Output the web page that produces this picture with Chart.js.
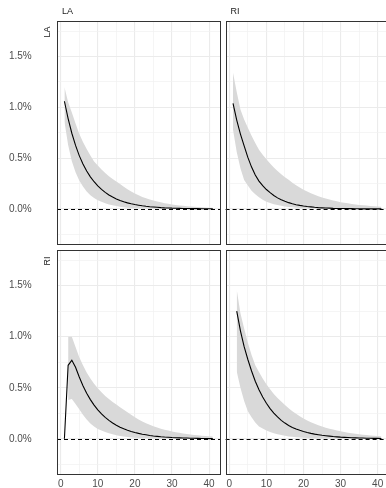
<!DOCTYPE html>
<html>
<head>
<meta charset="utf-8">
<script src="https://cdn.jsdelivr.net/npm/chart.js@4"></script>
<style>
  html, body { margin: 0; padding: 0; background: #fff; overflow: hidden; }
  #wrap { position: relative; width: 386px; height: 488px; overflow: hidden; }
  #wrap canvas { position: absolute; }
</style>
</head>
<body>
<div id="wrap">
  <canvas id="p11" width="224" height="248" style="left:0px;top:0px"></canvas>
  <canvas id="p12" width="170" height="248" style="left:222px;top:0px"></canvas>
  <canvas id="p21" width="224" height="240" style="left:0px;top:248px"></canvas>
  <canvas id="p22" width="170" height="240" style="left:222px;top:248px"></canvas>
</div>
<script>
const shocks = ['LA', 'RI'];
const horizon = [1,2,3,4,5,6,7,8,9,10,11,12,13,14,15,16,17,18,19,20,
  21,22,23,24,25,26,27,28,29,30,31,32,33,34,35,36,37,38,39,40,41];
const xMajor = [0, 10, 20, 30, 40];
const yMajor = [0, 0.5, 1, 1.5];

// row LA, column LA
const laLaMid = [1.06,0.89,0.745,0.625,0.525,0.443,0.374,0.316,0.268,0.227,
  0.192,0.163,0.138,0.117,0.099,0.084,0.071,0.06,0.051,0.043,
  0.037,0.031,0.026,0.022,0.019,0.016,0.013,0.011,0.01,0.008,
  0.007,0.006,0.005,0.004,0.003,0.003,0.003,0.002,0.002,0.002,0.001];
const laLaHi = [1.2,1.05,0.95,0.84,0.74,0.66,0.59,0.525,0.468,0.427,
  0.389,0.355,0.323,0.295,0.269,0.246,0.218,0.193,0.171,0.151,
  0.134,0.118,0.105,0.093,0.082,0.073,0.065,0.057,0.05,0.045,
  0.04,0.035,0.031,0.027,0.024,0.021,0.019,0.017,0.015,0.013,0.012];
const laLaLo = [0.86,0.63,0.47,0.36,0.28,0.22,0.172,0.135,0.107,0.085,
  0.07,0.055,0.045,0.036,0.028,0.022,0.017,0.013,0.01,0.008,
  0.006,0.005,0.004,0.003,0.003,0.002,0.002,0.002,0.001,0.001,
  0.001,0.001,0.001,0.001,0.001,0.001,0.001,0.001,0.001,0.001,0.001];

// row LA, column RI
const laRiMid = [1.04,0.875,0.737,0.621,0.507,0.412,0.335,0.274,0.229,0.191,
  0.16,0.132,0.109,0.09,0.075,0.062,0.051,0.042,0.035,0.029,
  0.024,0.02,0.016,0.013,0.011,0.009,0.008,0.006,0.005,0.004,
  0.004,0.003,0.003,0.002,0.002,0.001,0.001,0.001,0.001,0.001,0.001];
const laRiHi = [1.34,1.15,0.98,0.88,0.8,0.72,0.65,0.583,0.534,0.488,
  0.447,0.409,0.374,0.342,0.313,0.287,0.258,0.233,0.21,0.189,
  0.171,0.154,0.139,0.125,0.113,0.102,0.092,0.083,0.075,0.067,
  0.061,0.055,0.049,0.044,0.04,0.036,0.033,0.03,0.027,0.024,0.022];
const laRiLo = [0.78,0.56,0.4,0.284,0.23,0.18,0.145,0.115,0.09,0.072,
  0.058,0.047,0.038,0.031,0.025,0.02,0.016,0.013,0.01,0.008,
  0.006,0.005,0.004,0.003,0.003,0.002,0.002,0.002,0.001,0.001,
  0.001,0.001,0.001,0.001,0.001,0.001,0.001,0.001,0.001,0.001,0.001];

// row RI, column LA
const riLaMid = [0,0.72,0.77,0.7,0.605,0.52,0.447,0.384,0.33,0.284,
  0.244,0.21,0.18,0.155,0.133,0.114,0.098,0.084,0.072,0.062,
  0.053,0.045,0.039,0.033,0.028,0.024,0.02,0.017,0.015,0.012,
  0.01,0.009,0.008,0.007,0.006,0.005,0.004,0.003,0.003,0.002,0.002];
const riLaHi = [null,1.0,1.0,0.9,0.8,0.72,0.65,0.59,0.54,0.495,
  0.455,0.42,0.39,0.36,0.335,0.31,0.285,0.26,0.235,0.21,
  0.19,0.17,0.152,0.137,0.123,0.11,0.099,0.089,0.08,0.072,
  0.065,0.058,0.052,0.047,0.042,0.038,0.034,0.03,0.027,0.025,0.022];
const riLaLo = [null,0.38,0.39,0.34,0.29,0.235,0.188,0.15,0.12,0.097,
  0.08,0.066,0.054,0.044,0.035,0.028,0.022,0.017,0.013,0.01,
  0.008,0.006,0.005,0.004,0.003,0.002,0.002,0.001,0.001,0.001,
  0.001,0.001,0.001,0.001,0.001,0.001,0.001,0.001,0.001,0.001,0.001];

// row RI, column RI
const riRiMid = [null,1.25,1.058,0.902,0.777,0.664,0.564,0.48,0.409,0.348,
  0.296,0.252,0.214,0.181,0.154,0.13,0.111,0.096,0.083,0.072,
  0.062,0.053,0.046,0.04,0.034,0.03,0.026,0.022,0.019,0.016,
  0.014,0.012,0.01,0.009,0.008,0.007,0.006,0.005,0.004,0.004,0.003];
const riRiHi = [null,1.46,1.23,1.08,0.94,0.82,0.72,0.655,0.59,0.535,
  0.485,0.44,0.4,0.365,0.33,0.3,0.27,0.245,0.22,0.2,
  0.18,0.163,0.147,0.133,0.12,0.109,0.099,0.09,0.081,0.073,
  0.066,0.06,0.054,0.049,0.044,0.04,0.036,0.033,0.03,0.027,0.024];
const riRiLo = [null,0.66,0.5,0.37,0.27,0.21,0.16,0.12,0.1,0.08,
  0.066,0.054,0.044,0.036,0.029,0.023,0.019,0.015,0.012,0.01,
  0.008,0.006,0.005,0.004,0.003,0.003,0.002,0.002,0.002,0.001,
  0.001,0.001,0.001,0.001,0.001,0.001,0.001,0.001,0.001,0.001,0.001];

Chart.defaults.font.family = '"Liberation Sans", Arial, sans-serif';

const isMajor = (v, list) => list.some(m => Math.abs(m - v) < 1e-6);

function gridColor(list) {
  return ctx => (ctx.tick && isMajor(ctx.tick.value, list)) ? '#ebebeb' : '#f1f1f1';
}
function gridWidth(list) {
  return ctx => (ctx.tick && isMajor(ctx.tick.value, list)) ? 1.1 : 0.7;
}

function makePanel(id, mid, hi, lo, opt) {
  const pts = arr => horizon.map((h, i) => ({x: h, y: arr[i]}));

  const decor = {
    id: 'decor' + id,
    beforeDatasetsDraw(chart) {
      // dashed zero line
      const {ctx, chartArea} = chart;
      const y0 = Math.round(chart.scales.y.getPixelForValue(0)) + 0.5;
      ctx.save();
      ctx.strokeStyle = '#000';
      ctx.lineWidth = 1;
      ctx.setLineDash([4, 3]);
      ctx.beginPath();
      ctx.moveTo(chartArea.left, y0);
      ctx.lineTo(chartArea.right, y0);
      ctx.stroke();
      ctx.restore();
    },
    afterDraw(chart) {
      const {ctx, chartArea} = chart;
      ctx.save();
      ctx.strokeStyle = '#333333';
      ctx.lineWidth = 1;
      ctx.strokeRect(Math.round(chartArea.left) + 0.5, Math.round(chartArea.top) - 0.5,
        Math.round(chartArea.right - chartArea.left), Math.round(chartArea.bottom - chartArea.top) + 1);
      ctx.fillStyle = '#1a1a1a';
      ctx.font = '9px "Liberation Sans", Arial, sans-serif';
      ctx.textBaseline = 'middle';
      if (opt.colLabel) {
        ctx.textAlign = 'left';
        ctx.fillText(opt.colLabel, chartArea.left + 5, 12);
      }
      if (opt.rowLabel) {
        ctx.translate(47.5, chartArea.top + 10);
        ctx.rotate(-Math.PI / 2);
        ctx.textAlign = 'center';
        ctx.fillText(opt.rowLabel, 0, 0);
      }
      ctx.restore();
    }
  };

  return new Chart(document.getElementById(id), {
    type: 'line',
    data: {
      datasets: [
        {data: pts(mid), borderColor: '#000000', borderWidth: 1.1, pointRadius: 0, fill: false, tension: 0},
        {data: pts(hi), borderColor: 'rgba(0,0,0,0)', borderWidth: 0, pointRadius: 0, fill: '+1',
          backgroundColor: '#d9d9d9', tension: 0},
        {data: pts(lo), borderColor: 'rgba(0,0,0,0)', borderWidth: 0, pointRadius: 0, fill: false, tension: 0}
      ]
    },
    options: {
      responsive: false,
      animation: false,
      events: [],
      layout: {padding: opt.pad},
      plugins: {legend: {display: false}, tooltip: {enabled: false}},
      scales: {
        x: {
          type: 'linear', min: -1, max: 43,
          ticks: {
            stepSize: 5, includeBounds: false, display: opt.showX, padding: 4,
            autoSkip: false, maxRotation: 0, color: '#4d4d4d', font: {size: 10},
            callback: v => isMajor(v, xMajor) ? String(v) : ''
          },
          grid: {color: gridColor(xMajor), lineWidth: gridWidth(xMajor), drawTicks: false},
          border: {display: false},
          afterFit: s => { s.height = opt.xh; s.paddingLeft = 0; s.paddingRight = 0; }
        },
        y: {
          min: -0.345, max: 1.84,
          ticks: {
            stepSize: 0.25, includeBounds: false, display: opt.showY, padding: 25.3,
            autoSkip: false, color: '#4d4d4d', font: {size: 10},
            callback: v => isMajor(v, yMajor) ? v.toFixed(1) + '%' : ''
          },
          grid: {color: gridColor(yMajor), lineWidth: gridWidth(yMajor), drawTicks: false},
          border: {display: false},
          afterFit: s => { s.width = opt.yw; s.paddingTop = 0; s.paddingBottom = 0; }
        }
      }
    },
    plugins: [decor]
  });
}

makePanel('p11', laLaMid, laLaHi, laLaLo, {
  pad: {top: 22, right: 3.8, bottom: 0, left: 0}, yw: 57, xh: 4,
  showX: false, showY: true, colLabel: shocks[0], rowLabel: shocks[0]
});
makePanel('p12', laRiMid, laRiHi, laRiLo, {
  pad: {top: 22, right: 3.2, bottom: 0, left: 3.6}, yw: 0, xh: 4,
  showX: false, showY: false, colLabel: shocks[1]
});
makePanel('p21', riLaMid, riLaHi, riLaLo, {
  pad: {top: 3, right: 3.8, bottom: 0, left: 0}, yw: 57, xh: 14,
  showX: true, showY: true, rowLabel: shocks[1]
});
makePanel('p22', riRiMid, riRiHi, riRiLo, {
  pad: {top: 3, right: 3.2, bottom: 0, left: 3.6}, yw: 0, xh: 14,
  showX: true, showY: false
});
</script>
</body>
</html>
